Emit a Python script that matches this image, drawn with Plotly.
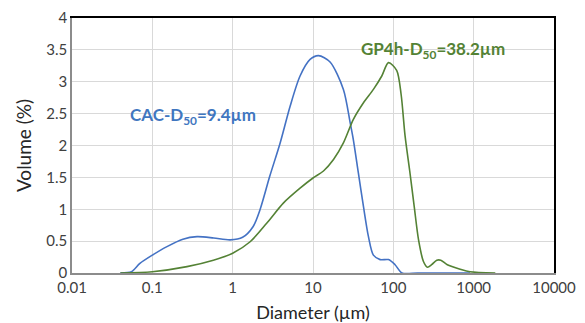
import plotly.graph_objects as go

# Particle size distributions (Diameter in µm, Volume in %)
cac_diameter = [0.04, 0.055, 0.07, 0.1, 0.15, 0.24, 0.36, 0.58, 0.93, 1.33, 1.8, 2.2, 2.9, 3.9,
                5.2, 6.9, 9.2, 11.7, 16.3, 23.9, 29, 31.8, 36.7, 42.5, 49, 56.5, 68.5, 87, 105,
                128, 200, 400, 900]
cac_volume = [0, 0.02, 0.15, 0.28, 0.41, 0.53, 0.57, 0.55, 0.52, 0.56, 0.73, 1.0, 1.52, 2.04,
              2.62, 3.09, 3.35, 3.41, 3.31, 2.88, 2.36, 2.09, 1.57, 1.04, 0.57, 0.28, 0.21, 0.21,
              0.13, 0, 0, 0, 0]

gp_diameter = [0.04, 0.1, 0.27, 0.575, 1, 1.65, 2.65, 4.3, 6.9, 10, 13.5, 18, 23.9, 31.8, 42.5,
               56.5, 71.8, 87, 110, 125, 140, 160, 182, 206, 237, 266, 300, 347, 390, 470, 680,
               900, 1860]
gp_volume = [0, 0.02, 0.1, 0.2, 0.31, 0.49, 0.78, 1.10, 1.33, 1.49, 1.60, 1.78, 2.04, 2.41, 2.67,
             2.88, 3.09, 3.30, 3.18, 2.8, 2.15, 1.6, 1.04, 0.52, 0.18, 0.09, 0.13, 0.2, 0.2, 0.13,
             0.06, 0.02, 0]

x_tick_vals = [0.01, 0.1, 1, 10, 100, 1000, 10000]
x_tick_text = ["0.01", "0.1", "1", "10", "100", "1000", "10000"]
y_tick_vals = [0, 0.5, 1, 1.5, 2, 2.5, 3, 3.5, 4]
y_tick_text = ["0", "0.5", "1", "1.5", "2", "2.5", "3", "3.5", "4"]

cac_label = "<b>CAC-D<sub>50</sub>=9.4µm</b>"
gp_label = "<b>GP4h-D<sub>50</sub>=38.2µm</b>"

BLUE = "#4472C4"
GREEN = "#548235"
FONT = "Lato"

fig = go.Figure()
fig.add_trace(go.Scatter(x=cac_diameter, y=cac_volume, mode="lines",
                         line=dict(color=BLUE, width=1.6, shape="spline", smoothing=0.8),
                         showlegend=False, xaxis="x", yaxis="y"))
fig.add_trace(go.Scatter(x=gp_diameter, y=gp_volume, mode="lines",
                         line=dict(color=GREEN, width=1.6, shape="spline", smoothing=0.8),
                         showlegend=False, xaxis="x2", yaxis="y2"))

fig.add_annotation(x=-0.49, y=2.46, xref="x", yref="y", text=cac_label, showarrow=False,
                   font=dict(family=FONT, size=17, color="#3F76C0"))
fig.add_annotation(x=2.49, y=3.5, xref="x", yref="y", text=gp_label, showarrow=False,
                   font=dict(family=FONT, size=17, color=GREEN))

axis_common = dict(zeroline=False, ticks="")

fig.update_layout(
    xaxis=dict(type="log", range=[-2, 4], tickvals=x_tick_vals, ticktext=x_tick_text,
               showgrid=True, gridcolor="#D9D9D9", gridwidth=1,
               showline=True, linecolor="#8C8C8C", linewidth=1.5,
               tickfont=dict(family=FONT, size=15, color="#404040"),
               title=dict(text="Diameter (µm)", font=dict(family=FONT, size=18, color="#262626"),
                          standoff=14),
               **axis_common),
    yaxis=dict(range=[0, 4], tickvals=y_tick_vals, ticktext=y_tick_text,
               showgrid=True, gridcolor="#D9D9D9", gridwidth=1,
               showline=True, linecolor="#8C8C8C", linewidth=1.5,
               tickfont=dict(family=FONT, size=15, color="#404040"),
               title=dict(text="Volume (%)", font=dict(family=FONT, size=19, color="#262626"),
                          standoff=10),
               **axis_common),
    xaxis2=dict(type="log", range=[-2, 4], overlaying="x", side="top", anchor="y2",
                showgrid=False, showticklabels=False, showline=True, linecolor="black",
                linewidth=1.5, **axis_common),
    yaxis2=dict(range=[0, 4], overlaying="y", side="right", anchor="x2",
                showgrid=False, showticklabels=False, showline=True, linecolor="black",
                linewidth=1.5, **axis_common),
    width=585, height=323, margin=dict(l=72, r=31, t=18, b=50, autoexpand=False),
    plot_bgcolor="white", paper_bgcolor="white", font=dict(family=FONT),
)

fig.write_html("out.html", config={"displayModeBar": False},
               post_script="document.body.style.margin='0px';document.body.style.overflow='hidden';")
